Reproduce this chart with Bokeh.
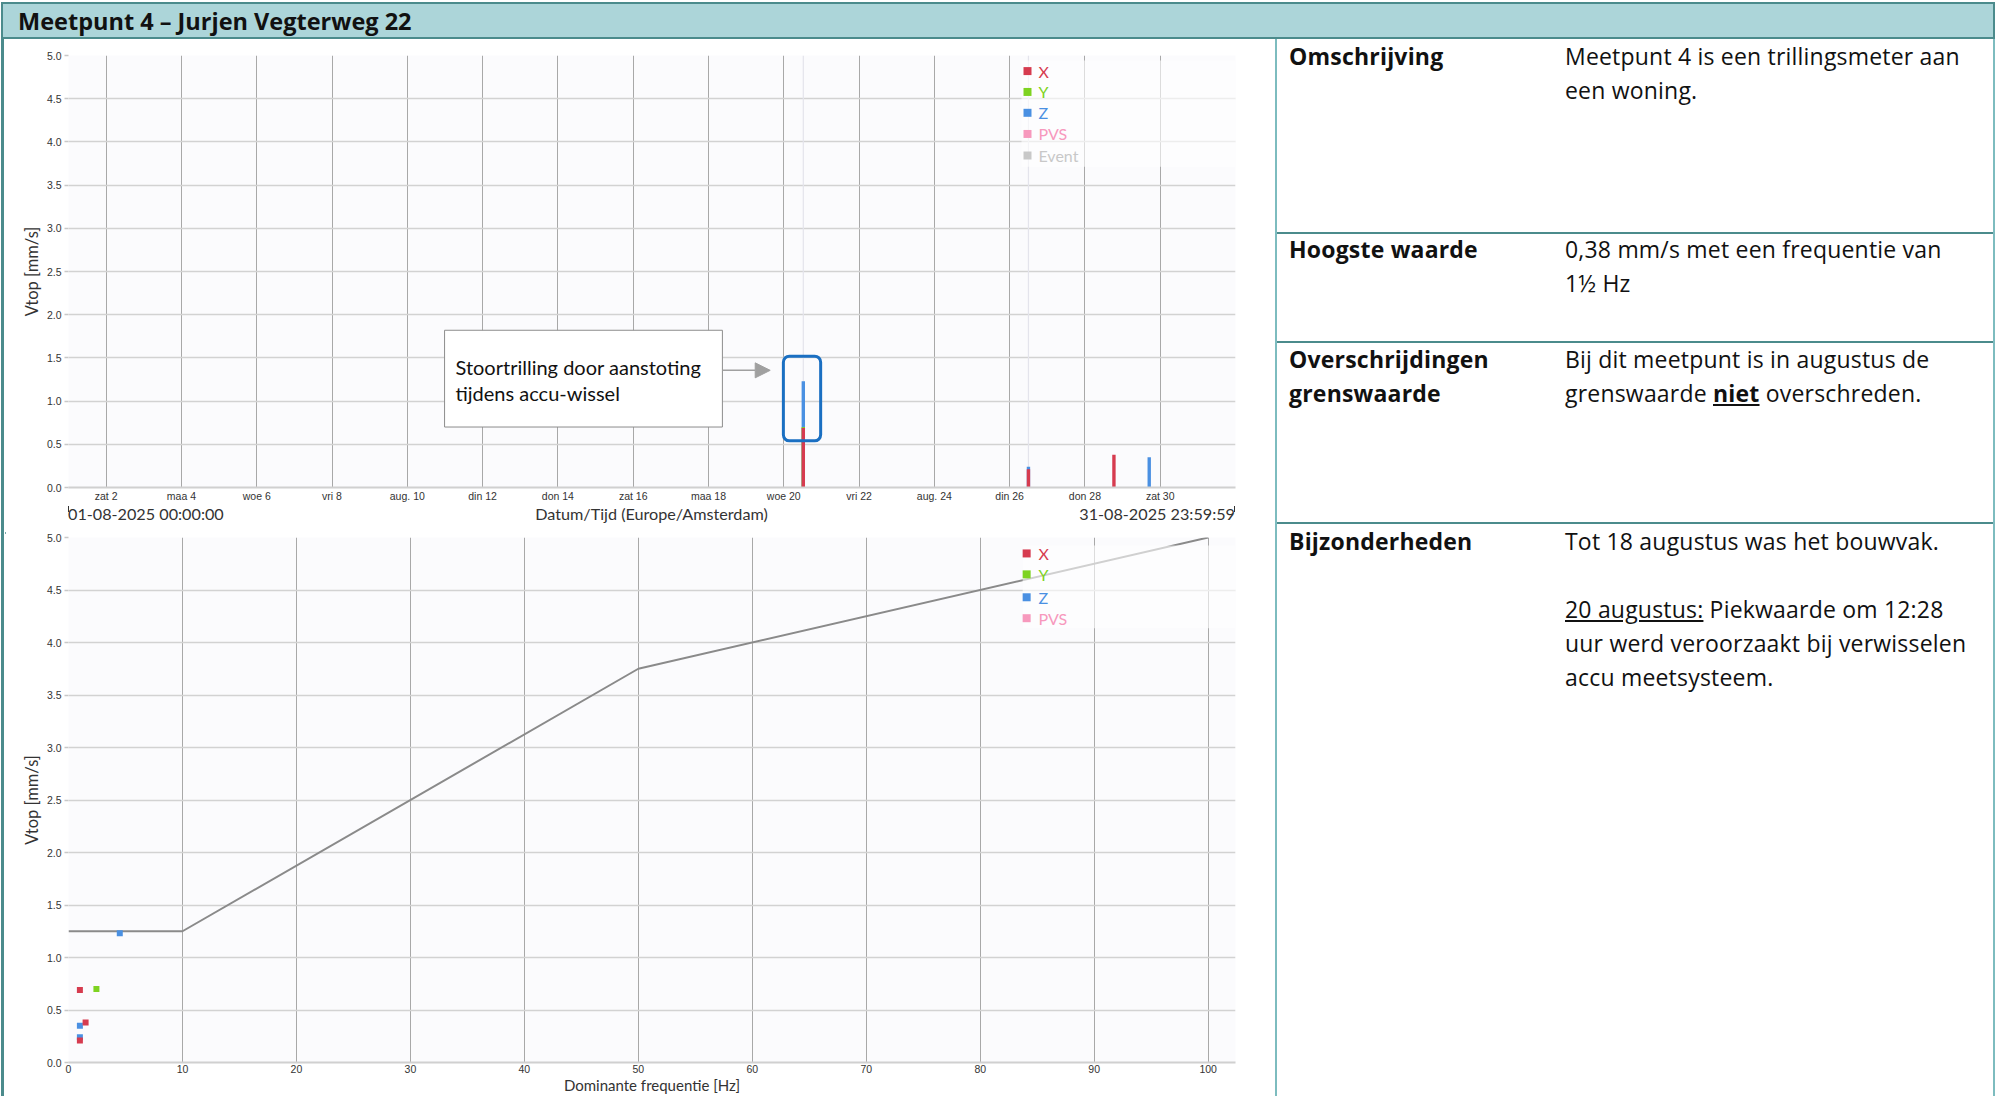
import pandas as pd
from bokeh.plotting import figure
from bokeh.models import (Range1d, FixedTicker, NumeralTickFormatter, ColumnDataSource,
                          Label, BoxAnnotation, Arrow, NormalHead, Div, Span)
from bokeh.layouts import row, column
from bokeh.core.properties import value
from bokeh.embed import file_html
from bokeh.resources import INLINE

# ------------------------------------------------------------------ data
title_text = "Meetpunt 4 – Jurjen Vegterweg 22"

series_names = ["X", "Y", "Z", "PVS", "Event"]
series_colors = ["#d63b4f", "#7ed321", "#4a90e2", "#f799bd", "#c8c8c8"]

period_start = "2025-08-01 00:00:00"
period_days = 31
period_start_label = "01-08-2025 00:00:00"
period_end_label = "31-08-2025 23:59:59"
time_axis_label = "Datum/Tijd (Europe/Amsterdam)"
freq_axis_label = "Dominante frequentie [Hz]"
vtop_axis_label = "Vtop [mm/s]"

tick_dates = ["2025-08-02", "2025-08-04", "2025-08-06", "2025-08-08", "2025-08-10",
              "2025-08-12", "2025-08-14", "2025-08-16", "2025-08-18", "2025-08-20",
              "2025-08-22", "2025-08-24", "2025-08-26", "2025-08-28", "2025-08-30"]
tick_labels = ["zat 2", "maa 4", "woe 6", "vri 8", "aug. 10", "din 12", "don 14",
               "zat 16", "maa 18", "woe 20", "vri 22", "aug. 24", "din 26", "don 28", "zat 30"]

vtop_ticks = [0.0, 0.5, 1.0, 1.5, 2.0, 2.5, 3.0, 3.5, 4.0, 4.5, 5.0]
freq_ticks = [0, 10, 20, 30, 40, 50, 60, 70, 80, 90, 100]

x_times = ["2025-08-20 12:28", "2025-08-26 12:00", "2025-08-28 18:30"]
x_vtop = [0.69, 0.21, 0.38]
x_freq = [1.0, 1.0, 1.5]

y_times = ["2025-08-20 12:28"]
y_vtop = [0.70]
y_freq = [2.45]

z_times = ["2025-08-20 12:28", "2025-08-26 12:00", "2025-08-29 17:00"]
z_vtop = [1.23, 0.24, 0.35]
z_freq = [4.5, 1.0, 1.0]

event_times = ["2025-08-20 12:28", "2025-08-26 12:00"]

limit_freq = [0, 10, 50, 100]
limit_vtop = [1.25, 1.25, 3.75, 5.0]

annotation_lines = ["Stoortrilling door aanstoting", "tijdens accu-wissel"]

info_labels = ["Omschrijving", "Hoogste waarde", "Overschrijdingen<br>grenswaarde", "Bijzonderheden"]
info_values = [
    "Meetpunt 4 is een trillingsmeter aan<br>een woning.",
    "0,38 mm/s met een frequentie van<br>1½ Hz",
    "Bij dit meetpunt is in augustus de<br>grenswaarde <b><u>niet</u></b> overschreden.",
    "Tot 18 augustus was het bouwvak.<br><br><u>20 augustus:</u> Piekwaarde om 12:28<br>"
    "uur werd veroorzaakt bij verwisselen<br>accu meetsysteem.",
]

# ------------------------------------------------------------------ helpers
t0 = pd.Timestamp(period_start)


def to_days(ts):
    return [(pd.Timestamp(t) - t0).total_seconds() / 86400.0 for t in ts]


TEAL_DARK = "#4b8b8c"
TEAL_LIGHT = "#7dbcbf"
HEADER_FILL = "#acd5d9"

PAGE_W = 1995
STRIP_W = 5
FIG_W = 1270
RIGHT_W = PAGE_W - STRIP_W - FIG_W
HEAD_H = 39
TOP_H = 465
LAB_H = 18
SEP_H = 2
BOT_H = 572
BODY_H = TOP_H + LAB_H + SEP_H + BOT_H

TOP_ML, TOP_MR, TOP_MT, TOP_MB = 63, 40, 16, 14
BOT_ML, BOT_MR, BOT_MT, BOT_MB = 63, 28, 13, 32


def style_chart(p, xlabel):
    p.background_fill_color = "#fbfbfd"
    p.border_fill_color = "white"
    p.outline_line_color = None
    xa, ya = p.xaxis[0], p.yaxis[0]
    for ax in (xa, ya):
        ax.major_label_text_font = "Liberation Sans"
        ax.major_label_text_font_size = "10.5px"
        ax.major_label_text_color = "#333333"
        ax.axis_label_text_font = "Lato"
        ax.axis_label_text_font_size = "16.5px"
        ax.axis_label_text_font_style = "normal"
        ax.axis_label_text_color = "#333333"
        ax.minor_tick_line_color = None
        ax.minor_tick_out = 0
        ax.minor_tick_in = 0
    if xlabel:
        xa.axis_label = xlabel
        xa.axis_label_text_font_size = "15px"
    xa.axis_label_standoff = 0
    xa.major_label_standoff = 2
    xa.major_tick_out = 0
    xa.major_tick_in = 0
    xa.major_tick_line_color = None
    xa.axis_line_color = "#d0d0d0"
    xa.axis_line_width = 2
    ya.axis_label = vtop_axis_label
    ya.axis_label_standoff = 2
    ya.major_label_standoff = 3
    ya.major_tick_out = 4
    ya.major_tick_in = 0
    ya.major_tick_line_color = "#c8c8c8"
    ya.major_tick_line_width = 1.5
    ya.axis_line_color = None
    ya.ticker = FixedTicker(ticks=vtop_ticks)
    ya.formatter = NumeralTickFormatter(format="0.0")
    p.ygrid.ticker = ya.ticker
    p.ygrid.grid_line_color = "#d2d2d2"
    p.ygrid.grid_line_width = 1.5
    p.xgrid.grid_line_color = "#a8a8a8"
    p.xgrid.grid_line_width = 1


def add_legend(p, names, colors, frame_w, frame_h, mx, tx, rows, box):
    xr = (p.x_range.start, p.x_range.end)
    yr = (p.y_range.start, p.y_range.end)

    def dx(px):
        return xr[0] + px / frame_w * (xr[1] - xr[0])

    def dy(py):
        return yr[1] - py / frame_h * (yr[1] - yr[0])

    p.add_layout(BoxAnnotation(left=dx(box[0]), right=dx(box[1]), top=dy(box[2]),
                               bottom=dy(box[3]), fill_color="white", fill_alpha=0.6,
                               line_color=None))
    src = ColumnDataSource(dict(x=[dx(mx)] * len(names), tx=[dx(tx)] * len(names),
                                y=[dy(r) for r in rows], name=names, color=colors))
    p.scatter("x", "y", source=src, marker="square", size=8, fill_color="color",
              line_color=None, level="overlay")
    p.text("tx", "y", text="name", source=src, text_color="color",
           text_font=value("Lato"), text_font_size=value("16px"),
           text_baseline=value("middle"), level="overlay")


# ------------------------------------------------------------------ top chart (time)
p1 = figure(width=FIG_W, height=TOP_H, x_range=Range1d(0, period_days), y_range=Range1d(0, 5),
            output_backend="svg", toolbar_location=None, tools="",
            min_border_left=TOP_ML, min_border_right=TOP_MR,
            min_border_top=TOP_MT, min_border_bottom=TOP_MB)
style_chart(p1, None)
tick_pos = to_days(tick_dates)
p1.xaxis[0].ticker = FixedTicker(ticks=tick_pos)
p1.xgrid.ticker = p1.xaxis[0].ticker
p1.xaxis[0].major_label_overrides = {k: v for k, v in zip(tick_pos, tick_labels)}

for t in to_days(event_times):
    p1.add_layout(Span(location=t, dimension="height", line_color="#e4e4ec",
                       line_width=1.2, level="underlay"))

BAR_W = 0.09
p1.vbar(x=to_days(z_times), top=z_vtop, width=BAR_W, fill_color=series_colors[2], line_color=None)
p1.vbar(x=to_days(y_times), top=y_vtop, width=BAR_W, fill_color=series_colors[1], line_color=None)
p1.vbar(x=to_days(x_times), top=x_vtop, width=BAR_W, fill_color=series_colors[0], line_color=None)

TOP_FW = FIG_W - TOP_ML - TOP_MR
TOP_FH = TOP_H - TOP_MT - TOP_MB
add_legend(p1, series_names, series_colors, TOP_FW, TOP_FH, 959, 970,
           [15.7, 36.7, 57.7, 79.0, 100.7], (953, TOP_FW, 5, 112))

# annotation box, text, arrow, highlight
p1.add_layout(BoxAnnotation(left=9.99, right=17.37, bottom=0.70, top=1.82,
                            fill_color="white", fill_alpha=1.0,
                            line_color="#8c8c8c", line_alpha=1.0, line_width=1))
for txt, yy in zip(annotation_lines, (1.40, 1.09)):
    p1.add_layout(Label(x=10.28, y=yy, text=txt, text_align="left", text_baseline="middle",
                        text_font="Lato", text_font_size="20px", text_color="#111111"))
p1.add_layout(Arrow(x_start=17.37, y_start=1.356, x_end=18.64, y_end=1.356,
                    line_color="#a0a0a0", line_width=1.5,
                    end=NormalHead(size=15, fill_color="#a0a0a0", line_color="#a0a0a0")))
p1.add_layout(BoxAnnotation(left=18.99, right=19.98, bottom=0.54, top=1.52,
                            fill_alpha=0.0, line_color="#1a6fc2", line_alpha=1.0,
                            line_width=3, border_radius=6))

# row with the period labels and time-axis title under the top chart
lab_style = ("position:absolute;top:0px;line-height:20px;font-family:Lato;font-size:16.2px;"
             f"color:#333;white-space:nowrap;left:{TOP_ML}px;width:{TOP_FW}px;")
lab_html = (f'<div style="position:relative;width:{FIG_W}px;height:{LAB_H}px;background:white;overflow:visible;">'
            f'<div style="{lab_style}text-align:left;">{period_start_label}</div>'
            f'<div style="{lab_style}text-align:center;">{time_axis_label}</div>'
            f'<div style="{lab_style}text-align:right;">{period_end_label}</div>'
            f'<div style="position:absolute;left:{TOP_ML}px;top:2px;width:1px;height:6px;background:#333;"></div>'
            f'<div style="position:absolute;left:{TOP_ML + TOP_FW - 1}px;top:2px;width:1px;height:6px;background:#333;"></div>'
            '</div>')
lab_row = Div(text=lab_html, width=FIG_W, height=LAB_H, margin=(0, 0, 0, 0))

# ------------------------------------------------------------------ bottom chart (frequency)
p2 = figure(width=FIG_W, height=BOT_H, x_range=Range1d(0, 102.4), y_range=Range1d(0, 5),
            output_backend="svg", toolbar_location=None, tools="",
            min_border_left=BOT_ML, min_border_right=BOT_MR,
            min_border_top=BOT_MT, min_border_bottom=BOT_MB)
style_chart(p2, freq_axis_label)
p2.xaxis[0].ticker = FixedTicker(ticks=freq_ticks)
p2.xgrid.ticker = p2.xaxis[0].ticker

p2.line(limit_freq, limit_vtop, line_color="#8a8a8a", line_width=2)
p2.scatter(z_freq, z_vtop, marker="square", size=6, fill_color=series_colors[2], line_color=None)
p2.scatter(y_freq, y_vtop, marker="square", size=6, fill_color=series_colors[1], line_color=None)
p2.scatter(x_freq, x_vtop, marker="square", size=6, fill_color=series_colors[0], line_color=None)

BOT_FW = FIG_W - BOT_ML - BOT_MR
BOT_FH = BOT_H - BOT_MT - BOT_MB
add_legend(p2, series_names[:4], series_colors[:4], BOT_FW, BOT_FH, 968, 980,
           [16, 37, 60, 81], (964, BOT_FW, 8, 91))

# ------------------------------------------------------------------ frame / text panels
header = Div(
    text=(f'<div style="position:relative;width:{PAGE_W}px;height:{HEAD_H}px;">'
          f'<div style="position:absolute;left:1px;top:2px;box-sizing:border-box;width:{PAGE_W - 1}px;'
          f'height:{HEAD_H - 2}px;background:{HEADER_FILL};border:2px solid {TEAL_DARK};">'
          f'<div style="position:absolute;left:15px;top:2px;line-height:30px;font-family:\'Open Sans\';'
          f'font-weight:bold;font-size:23.5px;color:#111;white-space:nowrap;">{title_text}</div></div></div>'),
    width=PAGE_W, height=HEAD_H, margin=(0, 0, 0, 0))

strip = Div(text=(f'<div style="position:relative;width:{STRIP_W}px;height:{BODY_H}px;">'
                  f'<div style="position:absolute;left:1px;top:0;width:3px;height:{BODY_H}px;'
                  f'background:{TEAL_DARK};"></div></div>'),
            width=STRIP_W, height=BODY_H, margin=(0, 0, 0, 0))
sep = Div(text=f'<div style="width:{FIG_W}px;height:{SEP_H}px;background:{TEAL_DARK};"></div>',
          width=FIG_W, height=SEP_H, margin=(0, 0, 0, 0))

row_lines = [193, 302, 483]
row_tops = [0, 193, 303, 485]
inner = ""
for ly in row_lines:
    inner += (f'<div style="position:absolute;left:0;right:0;top:{ly}px;height:2px;'
              f'background:{TEAL_DARK};"></div>')
for lab, val, top in zip(info_labels, info_values, row_tops):
    inner += (f'<div style="position:absolute;left:12px;top:{top}px;font-weight:bold;'
              f'white-space:nowrap;">{lab}</div>')
    inner += (f'<div style="position:absolute;left:288px;top:{top}px;'
              f'white-space:nowrap;">{val}</div>')
right = Div(
    text=(f'<div style="position:relative;box-sizing:border-box;width:{RIGHT_W}px;height:{BODY_H}px;'
          f'border-left:2px solid {TEAL_LIGHT};border-right:2px solid {TEAL_LIGHT};'
          f'font-family:\'Open Sans\';font-size:23px;letter-spacing:0.2px;line-height:34px;'
          f'color:#111;background:white;">{inner}</div>'),
    width=RIGHT_W, height=BODY_H, margin=(0, 0, 0, 0))

left_col = column(p1, lab_row, sep, p2, spacing=0)
page = column(header, row(strip, left_col, right, spacing=0), spacing=0)

open("out.html", "w", encoding="utf-8").write(file_html(page, INLINE))
